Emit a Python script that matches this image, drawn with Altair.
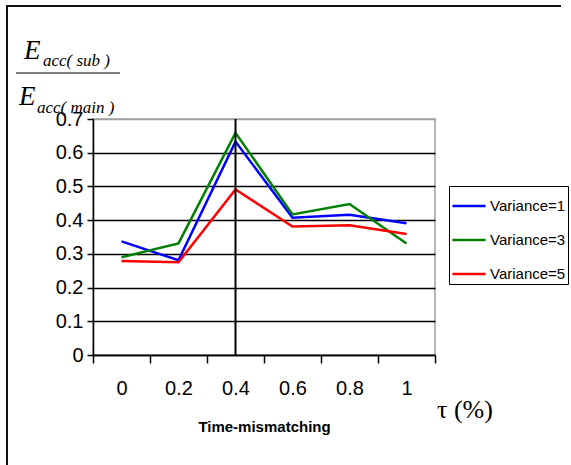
import json
import altair as alt
import pandas as pd

# ---- data ----
tau = [0, 0.2, 0.4, 0.6, 0.8, 1.0]
var1 = [0.337, 0.281, 0.633, 0.407, 0.416, 0.391]
var3 = [0.290, 0.331, 0.659, 0.417, 0.448, 0.331]
var5 = [0.279, 0.275, 0.491, 0.381, 0.385, 0.359]
series_names = ["Variance=1", "Variance=3", "Variance=5"]
series_colors = ["#0000ff", "#008000", "#ff0000"]
y_ticks = [0, 0.1, 0.2, 0.3, 0.4, 0.5, 0.6, 0.7]
x_tick_labels = ["0", "0.2", "0.4", "0.6", "0.8", "1"]
x_band_edges = [-0.1, 0.1, 0.3, 0.5, 0.7, 0.9, 1.1]
marker_tau = [0.4]

rows = []
for name, vals in zip(series_names, [var1, var3, var5]):
    for t, v in zip(tau, vals):
        rows.append({"tau": t, "value": v, "series": name})
df = pd.DataFrame(rows)

W, H = 342, 236
PL, PT = 93, 119

SANS = "Liberation Sans"
SERIF = "Liberation Serif"

x_scale = alt.Scale(domain=[-0.1, 1.1], nice=False, zero=False)
y_scale = alt.Scale(domain=[0, 0.7], nice=False)

label_expr = ("datum.value > 1 ? '' : " + json.dumps(x_tick_labels)
              + "[round((datum.value + 0.1) / 0.2)]")

x_axis = alt.Axis(values=x_band_edges, labelExpr=label_expr, labelOffset=28.5,
                  labelFlush=False, labelOverlap=False, grid=False,
                  tickSize=8, tickColor="black", tickWidth=1.5,
                  domainColor="black", domainWidth=1.5,
                  labelFont=SANS, labelFontSize=20, labelColor="black",
                  labelPadding=15,
                  title="Time-mismatching", titleFont=SANS, titleFontSize=15,
                  titleFontWeight="bold", titleColor="black", titlePadding=21)

y_axis = alt.Axis(values=y_ticks, format=".1~f", title=None,
                  labelFlush=False, labelOverlap=False,
                  tickSize=6, tickColor="black", tickWidth=1.5,
                  domainColor="black", domainWidth=1.5,
                  labelFont=SANS, labelFontSize=20, labelColor="black",
                  labelPadding=4,
                  grid=True, gridWidth=1.3,
                  gridColor=alt.condition("datum.value > 0.69", alt.value("#a0a0a0"), alt.value("#000000")))

lines = alt.Chart(df).mark_line(strokeWidth=2.5).encode(
    x=alt.X("tau:Q", scale=x_scale, axis=x_axis),
    y=alt.Y("value:Q", scale=y_scale, axis=y_axis),
    color=alt.Color("series:N",
                    scale=alt.Scale(domain=series_names, range=series_colors),
                    legend=alt.Legend(title=None, orient="none", legendX=356, legendY=67,
                                      strokeColor="black", padding=2,
                                      symbolType="stroke", symbolSize=1100,
                                      symbolStrokeWidth=2.5,
                                      labelFont=SANS, labelFontSize=15,
                                      labelColor="black", labelOffset=3,
                                      rowPadding=8)),
)

vline = alt.Chart(pd.DataFrame({"tau": marker_tau})).mark_rule(
    color="black", strokeWidth=2).encode(x=alt.X("tau:Q", scale=x_scale))

# decoration: outer frame
frame_top = alt.Chart(pd.DataFrame({"a": [0]})).mark_rule(color="#111", strokeWidth=2).encode(
    x=alt.value(6 - PL), x2=alt.value(561 - PL), y=alt.value(6 - PT))
frame_left = alt.Chart(pd.DataFrame({"a": [0]})).mark_rule(color="#111", strokeWidth=2).encode(
    x=alt.value(7 - PL), y=alt.value(6 - PT), y2=alt.value(470 - PT))

# y-axis title as a fraction
frac_bar = alt.Chart(pd.DataFrame({"a": [0]})).mark_rule(color="black", strokeWidth=1).encode(
    x=alt.value(16 - PL), x2=alt.value(120 - PL), y=alt.value(73 - PT))

def txt(s, x, y, size, font=SERIF, style="italic", weight="normal", align="left"):
    return alt.Chart(pd.DataFrame({"t": [s]})).mark_text(
        font=font, fontSize=size, fontStyle=style, fontWeight=weight,
        align=align, baseline="alphabetic", color="black").encode(
        x=alt.value(x - PL), y=alt.value(y - PT), text="t:N")

num_E = txt("E", 24, 59, 27)
num_sub = txt("acc( sub )", 43, 66, 17)
den_E = txt("E", 19, 105, 27)
den_sub = txt("acc( main )", 37, 113, 17)
tau_lbl = txt("τ (%)", 437, 418, 26, style="normal")

chart = alt.layer(
    lines, vline, frame_top, frame_left, frac_bar,
    num_E, num_sub, den_E, den_sub, tau_lbl,
).properties(
    width=W, height=H,
    autosize=alt.AutoSizeParams(type="none"),
    padding={"left": PL, "top": PT, "right": 571 - PL - W, "bottom": 465 - PT - H},
    background="white",
).configure_view(stroke="#a0a0a0", strokeWidth=1.5)

chart.save("out.html", embed_options={"renderer": "svg", "actions": False})
